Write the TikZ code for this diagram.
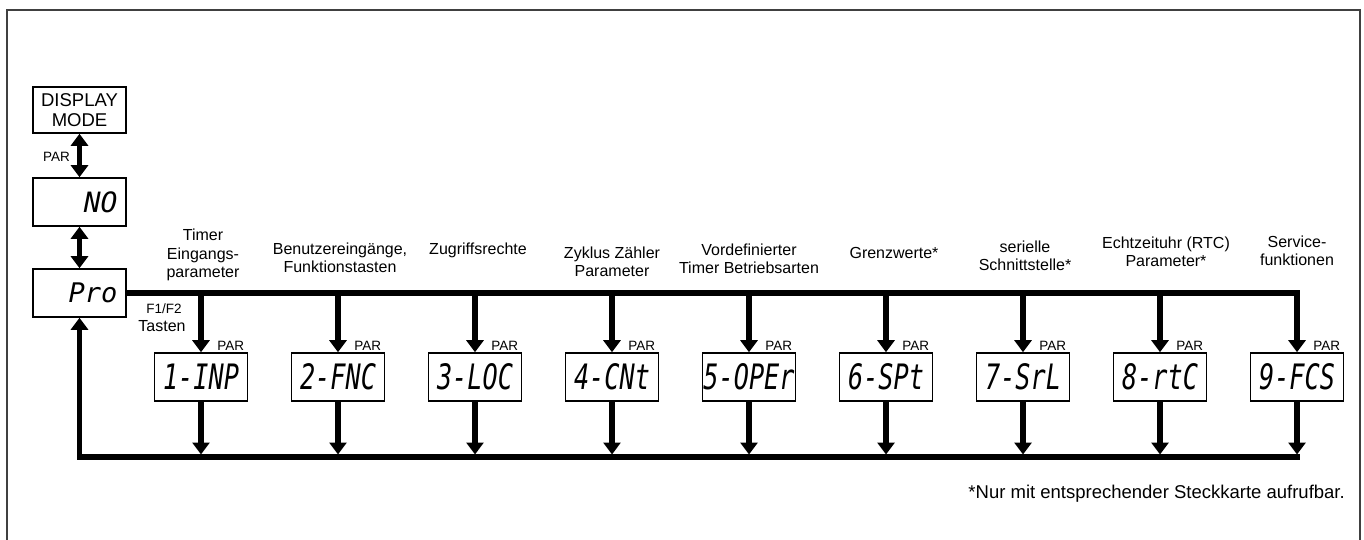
\documentclass[tikz,border=0pt]{standalone}
\usepackage{fontspec}
\usepackage{graphicx}
\setmainfont{Liberation Sans}
\newfontfamily\segfont{DejaVu Sans Mono}
\usetikzlibrary{arrows.meta}

\newcommand{\lcd}[3]{\scalebox{#1}[1]{\fontsize{#2}{#2}\selectfont\segfont\itshape #3}}

\begin{document}
\begin{tikzpicture}[
  x=1pt, y=-1pt,
  every node/.style={font=\fontsize{16}{18.5}\selectfont, align=center, inner sep=0pt},
  box/.style={draw, line width=1.6pt, minimum width=93pt, minimum height=48pt},
  bus/.style={line width=5.5pt},
  arr/.style={line width=5.5pt, -{Triangle[width=17pt,length=12pt]}},
  darr/.style={line width=5.5pt, {Triangle[width=17pt,length=12pt]}-{Triangle[width=17pt,length=12pt]}},
  par/.style={font=\fontsize{13.5}{13.5}\selectfont}
]
  \useasboundingbox (0,0) rectangle (1364,540);
  \draw[line width=1.5pt, black!75] (7,541) -- (7,10) -- (1360,10) -- (1360,541);

  \node[box, minimum height=46pt, font=\fontsize{18.5}{20}\selectfont] (dm) at (79.5,110) {DISPLAY\\MODE};
  \node[box, text width=76pt, align=right] (no) at (79.5,202) {\lcd{1}{28}{NO}};
  \node[box, text width=76pt, align=right] (pro) at (79.5,293) {\lcd{1}{27}{Pro}};
  \node[par, anchor=east] (parmode) at (70,157) {PAR};
  \node[par] (fkeys) at (164,309) {F1/F2};
  \node (tasten) at (162,326) {Tasten};

  \draw[darr] (dm) -- (no);
  \draw[darr] (no) -- (pro);

  \foreach \i/\code/\dx/\ly/\lab in {
      1/1-INP/2/255/{Timer\\Eingangs-\\parameter},
      2/2-FNC/2/258/{Benutzereingänge,\\Funktionstasten},
      3/3-LOC/3/250/{Zugriffsrechte},
      4/4-CNt/0/262/{Zyklus Zähler\\Parameter},
      5/5-OPEr/0/259/{Vordefinierter\\Timer Betriebsarten},
      6/6-SPt/8/253/{Grenzwerte*},
      7/7-SrL/2/256/{serielle\\Schnittstelle*},
      8/8-rtC/6/252/{Echtzeituhr (RTC)\\Parameter*},
      9/9-FCS/0/251/{Service-\\funktionen}} {
    \node[box] (b\i) at (201+137*\i-137,377) {\lcd{0.72}{35}{\code}};
    \node (lab\i) at (201+137*\i-137+\dx,\ly) {\lab};
    \node[par, anchor=south east] (par\i) at ([xshift=-4pt,yshift=2pt]b\i.north east) {PAR};
  }

  \coordinate (bot) at (0,457);
  \draw[arr] (pro.east) -| (b9.north);
  \foreach \i in {1,...,8}
    \draw[arr] (b\i.north |- pro.east) -- (b\i.north);
  \foreach \i in {1,...,9}
    \draw[arr, shorten >=2.5pt] (b\i.south) -- (b\i.south |- bot);
  \draw[arr] ([xshift=2.75pt]b9.south |- bot) -| (pro.south);

  \node[anchor=east, font=\fontsize{18.5}{20}\selectfont] (note) at (1345,494) {*Nur mit entsprechender Steckkarte aufrufbar.};
\end{tikzpicture}
\end{document}
